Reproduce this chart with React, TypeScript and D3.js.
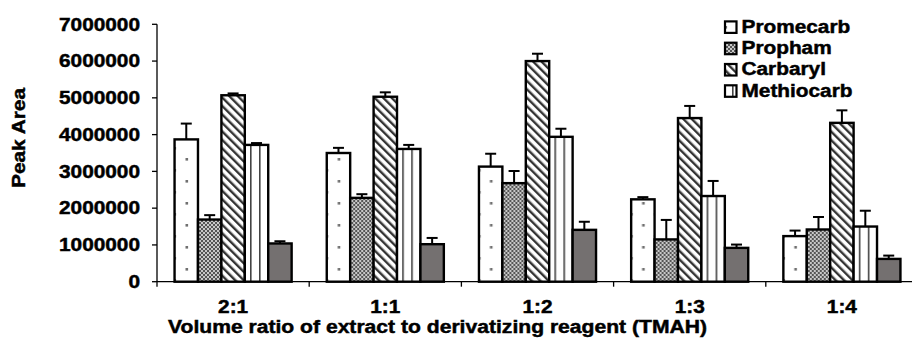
import React from 'react';
import * as d3 from 'd3';

const categories = ['2:1', '1:1', '1:2', '1:3', '1:4'];
const seriesNames = ['Promecarb', 'Propham', 'Carbaryl', 'Methiocarb', 'Series5'];
const legendNames = ['Promecarb', 'Propham', 'Carbaryl', 'Methiocarb'];

const promecarb = [3870000, 3500000, 3130000, 2240000, 1240000];
const promecarbErr = [430000, 140000, 350000, 60000, 150000];
const propham = [1690000, 2280000, 2680000, 1150000, 1420000];
const prophamErr = [120000, 100000, 330000, 530000, 340000];
const carbaryl = [5070000, 5030000, 6000000, 4450000, 4320000];
const carbarylErr = [50000, 120000, 200000, 330000, 340000];
const methiocarb = [3720000, 3610000, 3940000, 2330000, 1500000];
const methiocarbErr = [50000, 110000, 220000, 410000, 430000];
const series5 = [1040000, 1020000, 1410000, 920000, 620000];
const series5Err = [60000, 170000, 220000, 90000, 90000];

const yTicks = [0, 1000000, 2000000, 3000000, 4000000, 5000000, 6000000, 7000000];

const values = [promecarb, propham, carbaryl, methiocarb, series5];
const errors = [promecarbErr, prophamErr, carbarylErr, methiocarbErr, series5Err];

const fills = ['url(#dots)', 'url(#check)', 'url(#diag)', 'url(#vert)', '#747070'];

const width = 912;
const height = 338;
const FONT = '"Liberation Sans", Arial, sans-serif';
const SX = 1.19; // glyphs in the picture are stretched sideways

const App = () => {
  const x = d3.scaleBand<string>().domain(categories).range([157, 918]);
  const x1 = d3
    .scaleBand<string>()
    .domain(seriesNames)
    .range([0, x.bandwidth()])
    .paddingOuter(0.75);
  const y = d3.scaleLinear().domain([0, 7000000]).range([281.7, 24.3]);

  return (
    <svg
      width={width}
      height={height}
      style={{ position: 'absolute', left: 0, top: 0, background: '#fff' }}
      fontFamily={FONT}
      fontWeight="bold"
    >
      <defs>
        <pattern id="dots" patternUnits="userSpaceOnUse" width={24} height={22}>
          <rect width={24} height={22} fill="#fff" />
          <rect x={4.5} y={4} width={2.6} height={2.6} fill="#707070" />
          <rect x={16.5} y={15} width={2.6} height={2.6} fill="#707070" />
        </pattern>
        <pattern id="check" patternUnits="userSpaceOnUse" width={4} height={4}>
          <rect width={4} height={4} fill="#c8c8c8" />
          <rect x={0} y={0} width={2} height={2} fill="#555" />
          <rect x={2} y={2} width={2} height={2} fill="#555" />
        </pattern>
        <pattern
          id="diag"
          patternUnits="userSpaceOnUse"
          width={6}
          height={6}
          patternTransform="rotate(-45)"
        >
          <rect width={6} height={6} fill="#fff" />
          <rect x={0} y={0} width={2.4} height={6} fill="#333" />
        </pattern>
        <pattern id="vert" patternUnits="userSpaceOnUse" width={9} height={10}>
          <rect width={9} height={10} fill="#fff" />
          <rect x={3} y={0} width={1.6} height={10} fill="#444" />
        </pattern>
      </defs>

      <g stroke="#000" strokeWidth={0.45}>
        {/* y axis labels */}
        {yTicks.map((t) => (
          <g key={t} transform={`translate(140,${y(t)}) scale(${SX},1)`}>
            <text textAnchor="end" dy="0.36em" fontSize={17.5}>
              {t}
            </text>
          </g>
        ))}

        {categories.map((c) => (
          <g key={'l' + c} transform={`translate(${(x(c) as number) + x.bandwidth() / 2},313.3) scale(${SX},1)`}>
            <text textAnchor="middle" fontSize={17.5}>
              {c}
            </text>
          </g>
        ))}

        <text x={168} y={333.3} fontSize={17.5} textLength={539} lengthAdjust="spacingAndGlyphs">
          Volume ratio of extract to derivatizing reagent (TMAH)
        </text>

        <g transform="translate(25,138) rotate(-90)">
          <text textAnchor="middle" fontSize={17.5} textLength={100} lengthAdjust="spacingAndGlyphs">
            Peak Area
          </text>
        </g>

        {legendNames.map((n, i) => (
          <g key={n} transform={`translate(741.5,${32.7 + i * 21.3}) scale(${SX},1)`}>
            <text fontSize={17.5}>{n}</text>
          </g>
        ))}
      </g>

      {/* y axis */}
      <line x1={157} x2={157} y1={y(7000000)} y2={y(0)} stroke="#000" strokeWidth={1.3} />
      {yTicks.map((t) => (
        <line key={t} x1={152} x2={157} y1={y(t)} y2={y(t)} stroke="#000" strokeWidth={1.3} />
      ))}

      {/* bars */}
      {categories.map((c, i) => (
        <g key={c} transform={`translate(${x(c)},0)`}>
          {seriesNames.map((s, j) => {
            const v = values[j][i];
            const e = errors[j][i];
            const bx = x1(s) as number;
            const bw = x1.bandwidth();
            const cx = bx + bw / 2;
            return (
              <g key={s}>
                <line x1={cx} x2={cx} y1={y(v)} y2={y(v + e)} stroke="#000" strokeWidth={2} />
                <line x1={cx - 5.5} x2={cx + 5.5} y1={y(v + e)} y2={y(v + e)} stroke="#000" strokeWidth={2} />
                <rect
                  x={bx}
                  y={y(v)}
                  width={bw}
                  height={y(0) - y(v)}
                  fill={fills[j]}
                  stroke="#000"
                  strokeWidth={2.4}
                />
              </g>
            );
          })}
        </g>
      ))}

      {/* x axis */}
      <line x1={157} x2={918} y1={y(0)} y2={y(0)} stroke="#000" strokeWidth={1.3} />
      {categories.map((c) => (
        <line
          key={'t' + c}
          x1={x(c)}
          x2={x(c)}
          y1={y(0)}
          y2={y(0) + 5}
          stroke="#000"
          strokeWidth={1.3}
        />
      ))}

      {/* legend keys */}
      {legendNames.map((n, i) => {
        const yy = 32.7 + i * 21.3;
        return (
          <rect key={n} x={725} y={yy - 11.3} width={11.5} height={11.5} fill={fills[i]} stroke="#000" strokeWidth={2.2} />
        );
      })}
    </svg>
  );
};

export default App;
